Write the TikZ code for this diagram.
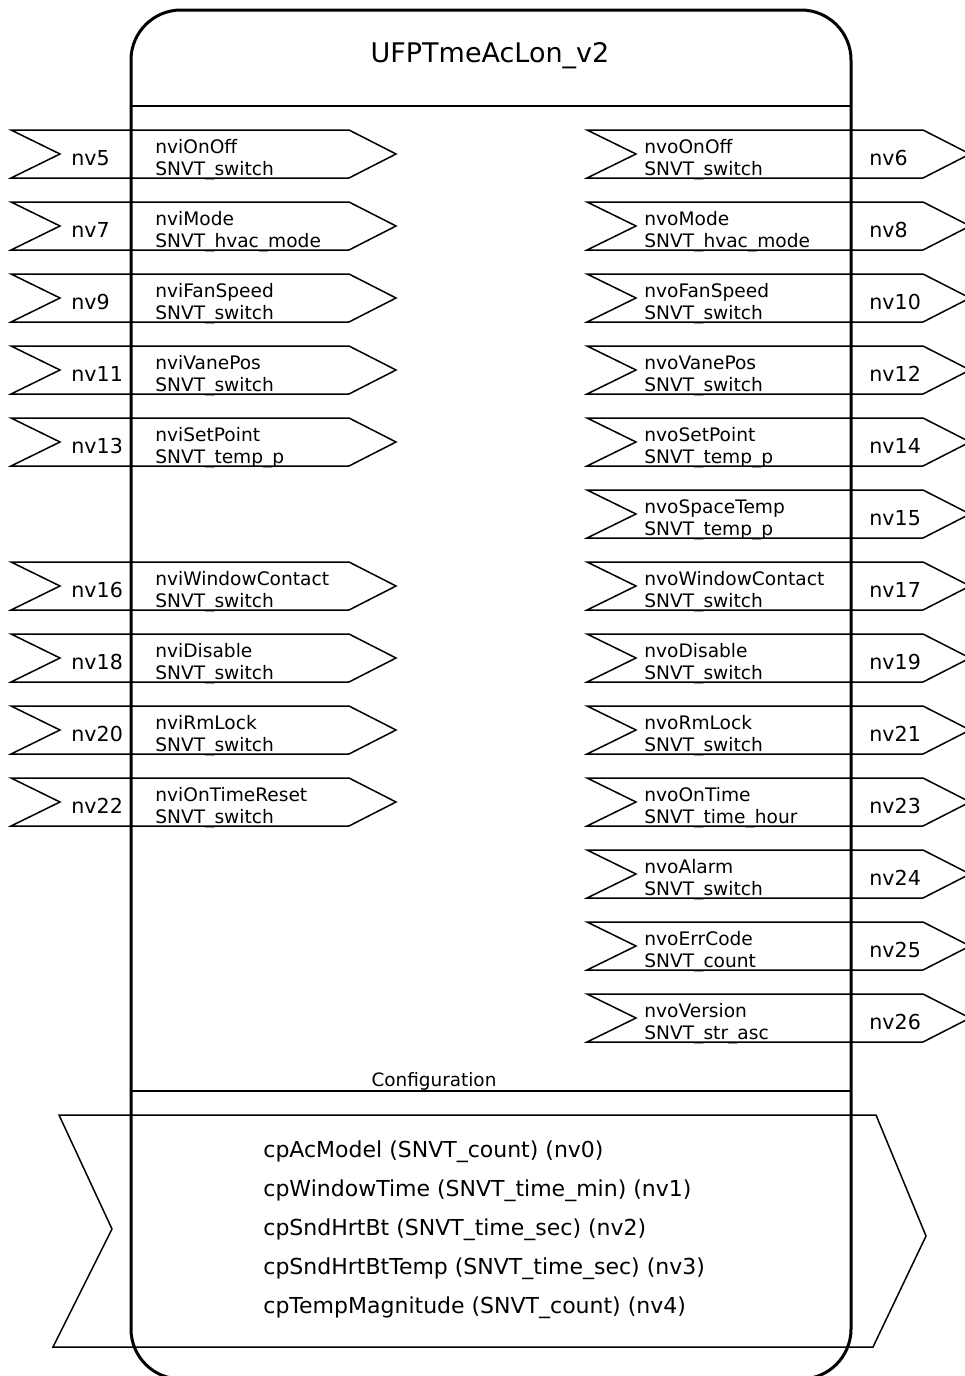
\documentclass[tikz,border=0pt]{standalone}
\usepackage{fontspec}
\setmainfont{DejaVu Sans}

\tikzset{
  frame/.style={line width=1.5pt, rounded corners=25pt},
  sepline/.style={line width=1pt},
  pinshape/.style={line width=0.75pt, line join=miter},
  nvlabel/.style={anchor=base west, inner sep=0pt, font=\fontsize{10.3}{12}\selectfont},
  nvtext/.style={anchor=base west, inner sep=0pt, font=\fontsize{9.3}{11}\selectfont},
  cptext/.style={anchor=base west, inner sep=0pt, font=\fontsize{11}{13}\selectfont},
}

\begin{document}
\begin{tikzpicture}[x=0.5pt, y=-0.5pt]
  \useasboundingbox (0,0) rectangle (964,1376);

  % inputs
  \foreach \t/\n/\nm/\ty in {130/5/nviOnOff/switch, 202/7/nviMode/hvac\_mode,
      274/9/nviFanSpeed/switch, 346/11/nviVanePos/switch, 418/13/nviSetPoint/temp\_p,
      562/16/nviWindowContact/switch, 634/18/nviDisable/switch,
      706/20/nviRmLock/switch, 778/22/nviOnTimeReset/switch} {
    \draw[pinshape] (11,\t) -- ++(338,0) -- ++(47,24) -- ++(-47,24)
      -- ++(-338,0) -- ++(49,-24) -- cycle;
    \node[nvlabel] (nv\n) at (71,\t+35) {nv\n};
    \node[nvtext] (name\n) at (155,\t+23) {\nm};
    \node[nvtext] (type\n) at (155,\t+45) {SNVT\_\ty};
  }

  % outputs
  \foreach \t/\n/\nm/\ty in {130/6/nvoOnOff/switch, 202/8/nvoMode/hvac\_mode,
      274/10/nvoFanSpeed/switch, 346/12/nvoVanePos/switch, 418/14/nvoSetPoint/temp\_p,
      490/15/nvoSpaceTemp/temp\_p, 562/17/nvoWindowContact/switch,
      634/19/nvoDisable/switch, 706/21/nvoRmLock/switch, 778/23/nvoOnTime/time\_hour,
      850/24/nvoAlarm/switch, 922/25/nvoErrCode/count, 994/26/nvoVersion/str\_asc} {
    \draw[pinshape] (587,\t) -- ++(336,0) -- ++(47,24) -- ++(-47,24)
      -- ++(-336,0) -- ++(49,-24) -- cycle;
    \node[nvlabel] (nv\n) at (869,\t+35) {nv\n};
    \node[nvtext] (name\n) at (644,\t+23) {\nm};
    \node[nvtext] (type\n) at (644,\t+45) {SNVT\_\ty};
  }

  % configuration
  \draw[pinshape] (59,1115) -- (876,1115) -- (926,1236) -- (873,1347)
    -- (53,1347) -- (112,1229) -- cycle;
  \node[cptext] (cp0) at (263,1157) {cpAcModel (SNVT\_count) (nv0)};
  \node[cptext] (cp1) at (263,1196) {cpWindowTime (SNVT\_time\_min) (nv1)};
  \node[cptext] (cp2) at (263,1235) {cpSndHrtBt (SNVT\_time\_sec) (nv2)};
  \node[cptext] (cp3) at (263,1274) {cpSndHrtBtTemp (SNVT\_time\_sec) (nv3)};
  \node[cptext] (cp4) at (263,1313) {cpTempMagnitude (SNVT\_count) (nv4)};

  % block
  \node[anchor=base, inner sep=0pt, font=\fontsize{13.5}{16}\selectfont] (title) at (490,62) {UFPTmeAcLon\_v2};
  \draw[sepline] (131,106) -- (851,106);
  \node[anchor=base, inner sep=0pt, font=\fontsize{9.2}{11}\selectfont] (config) at (434,1086) {Configuration};
  \draw[sepline] (131,1091) -- (851,1091);
  \draw[frame] (131,10) rectangle (851,1379);
\end{tikzpicture}
\end{document}
